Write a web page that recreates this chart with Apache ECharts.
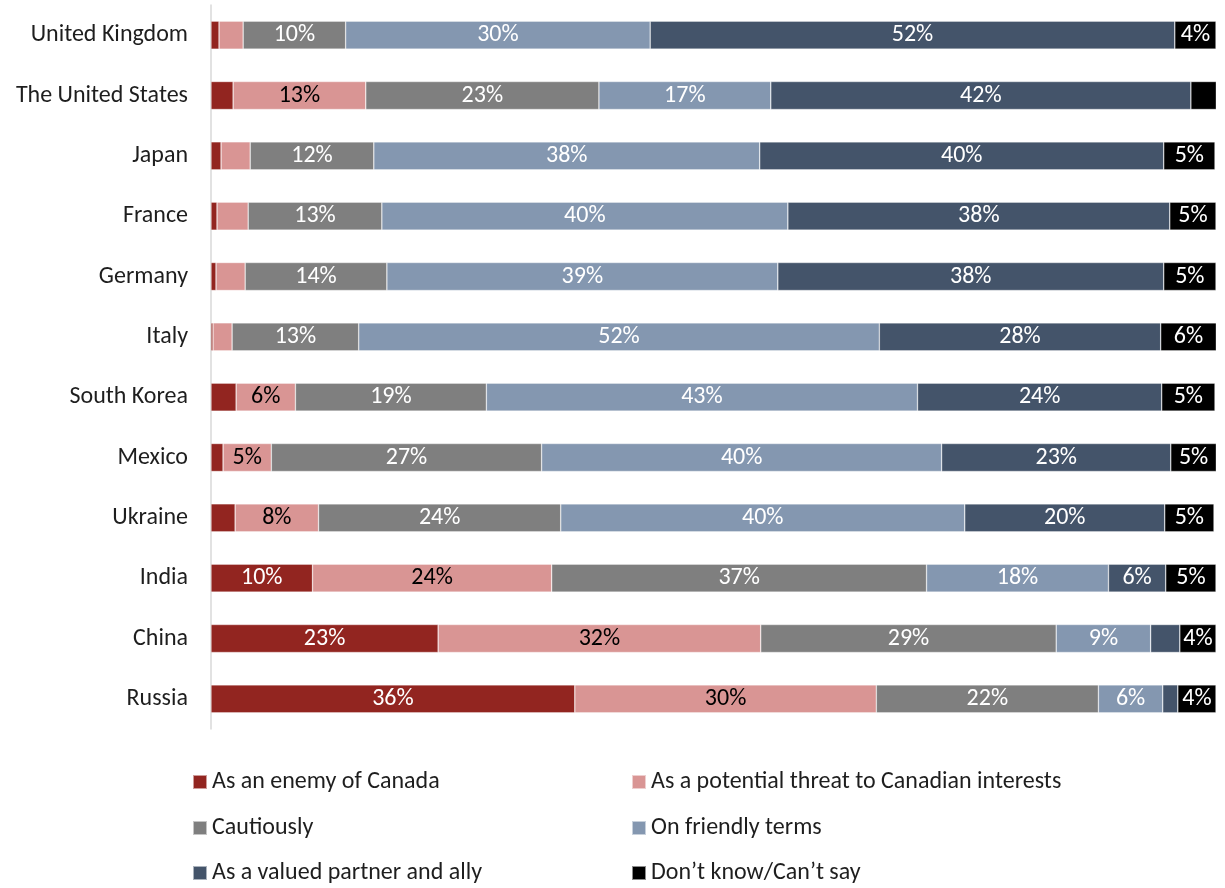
<!DOCTYPE html>
<html>
<head>
<meta charset="utf-8">
<title>Views of countries</title>
<script src="https://cdn.jsdelivr.net/npm/echarts@6/dist/echarts.min.js"></script>
<style>
  html, body { margin: 0; padding: 0; background: #ffffff; }
  #chart { width: 1225px; height: 888px; }
</style>
</head>
<body>
<div id="chart"></div>
<script>
// Countries, top to bottom
const countries = ['United Kingdom', 'The United States', 'Japan', 'France', 'Germany', 'Italy',
  'South Korea', 'Mexico', 'Ukraine', 'India', 'China', 'Russia'];

// Share of respondents (%) per answer, one value per country
const enemy    = [0.8, 2.2, 1.0, 0.6, 0.5, 0.2, 2.5, 1.2, 2.4, 10.1, 22.6, 36.2];
const threat   = [2.4, 13.2, 2.9, 3.1, 2.9, 1.9, 5.9, 4.8, 8.3, 23.8, 32.1, 30.0];
const cautious = [10.2, 23.2, 12.3, 13.3, 14.1, 12.6, 19.0, 26.9, 24.1, 37.3, 29.4, 22.1];
const friendly = [30.3, 17.1, 38.4, 40.4, 38.9, 51.8, 42.9, 39.8, 40.2, 18.1, 9.4, 6.4];
const partner  = [52.2, 41.8, 40.2, 38.0, 38.4, 28.0, 24.3, 22.8, 19.9, 5.7, 2.9, 1.5];
const dontKnow = [4.1, 2.7, 5.1, 4.6, 5.2, 5.6, 5.3, 4.6, 4.9, 5.0, 3.6, 3.8];

const seriesNames = ['As an enemy of Canada', 'As a potential threat to Canadian interests', 'Cautiously',
  'On friendly terms', 'As a valued partner and ally', 'Don\u2019t know/Can\u2019t say'];
const seriesData = [enemy, threat, cautious, friendly, partner, dontKnow];
const colors = ['#922520', '#d99594', '#7f7f7f', '#8497b0', '#44546a', '#000000'];
const labelColors = ['#ffffff', '#000000', '#ffffff', '#ffffff', '#ffffff', '#ffffff'];

const FONT = 'Carlito, Lato, "Open Sans", sans-serif';
const TEXT = '#1e1e1e';

const chart = echarts.init(document.getElementById('chart'), null, { renderer: 'canvas' });

const series = seriesNames.map((name, i) => ({
  name: name,
  type: 'bar',
  stack: 'total',
  barWidth: 28,
  data: seriesData[i],
  itemStyle: { color: colors[i], borderColor: 'rgba(255,255,255,0.55)', borderWidth: 0.6 },
  label: {
    show: true,
    position: 'inside',
    color: labelColors[i],
    fontFamily: FONT,
    fontSize: 24,
    formatter: p => (p.value >= 3.5 ? Math.round(p.value) + '%' : '')
  },
  emphasis: { disabled: true }
}));

// Legend: two columns of three entries, one legend box per entry
const legendCols = [187, 626];
const legendRows = [765, 811, 856];
const legendOrder = [[0, 2, 4], [1, 3, 5]];
const legends = [];
legendOrder.forEach((col, c) => {
  col.forEach((idx, r) => {
    legends.push({
      left: legendCols[c], top: legendRows[r],
      itemWidth: 14, itemHeight: 14, itemGap: 0,
      icon: 'rect',
      data: [seriesNames[idx]],
      textStyle: { color: TEXT, fontFamily: FONT, fontSize: 24 },
      selectedMode: false
    });
  });
});

chart.setOption({
  animation: false,
  color: colors,
  grid: { left: 211, right: 9, top: 5, bottom: 159 },
  xAxis: {
    type: 'value',
    min: 0,
    max: 100,
    show: false
  },
  yAxis: {
    type: 'category',
    data: countries,
    inverse: true,
    axisLine: { show: true, lineStyle: { color: '#d9d9d9', width: 1.5 } },
    axisTick: { show: false },
    axisLabel: { color: TEXT, fontFamily: FONT, fontSize: 24, margin: 23 }
  },
  legend: legends,
  series: series
});
</script>
</body>
</html>
